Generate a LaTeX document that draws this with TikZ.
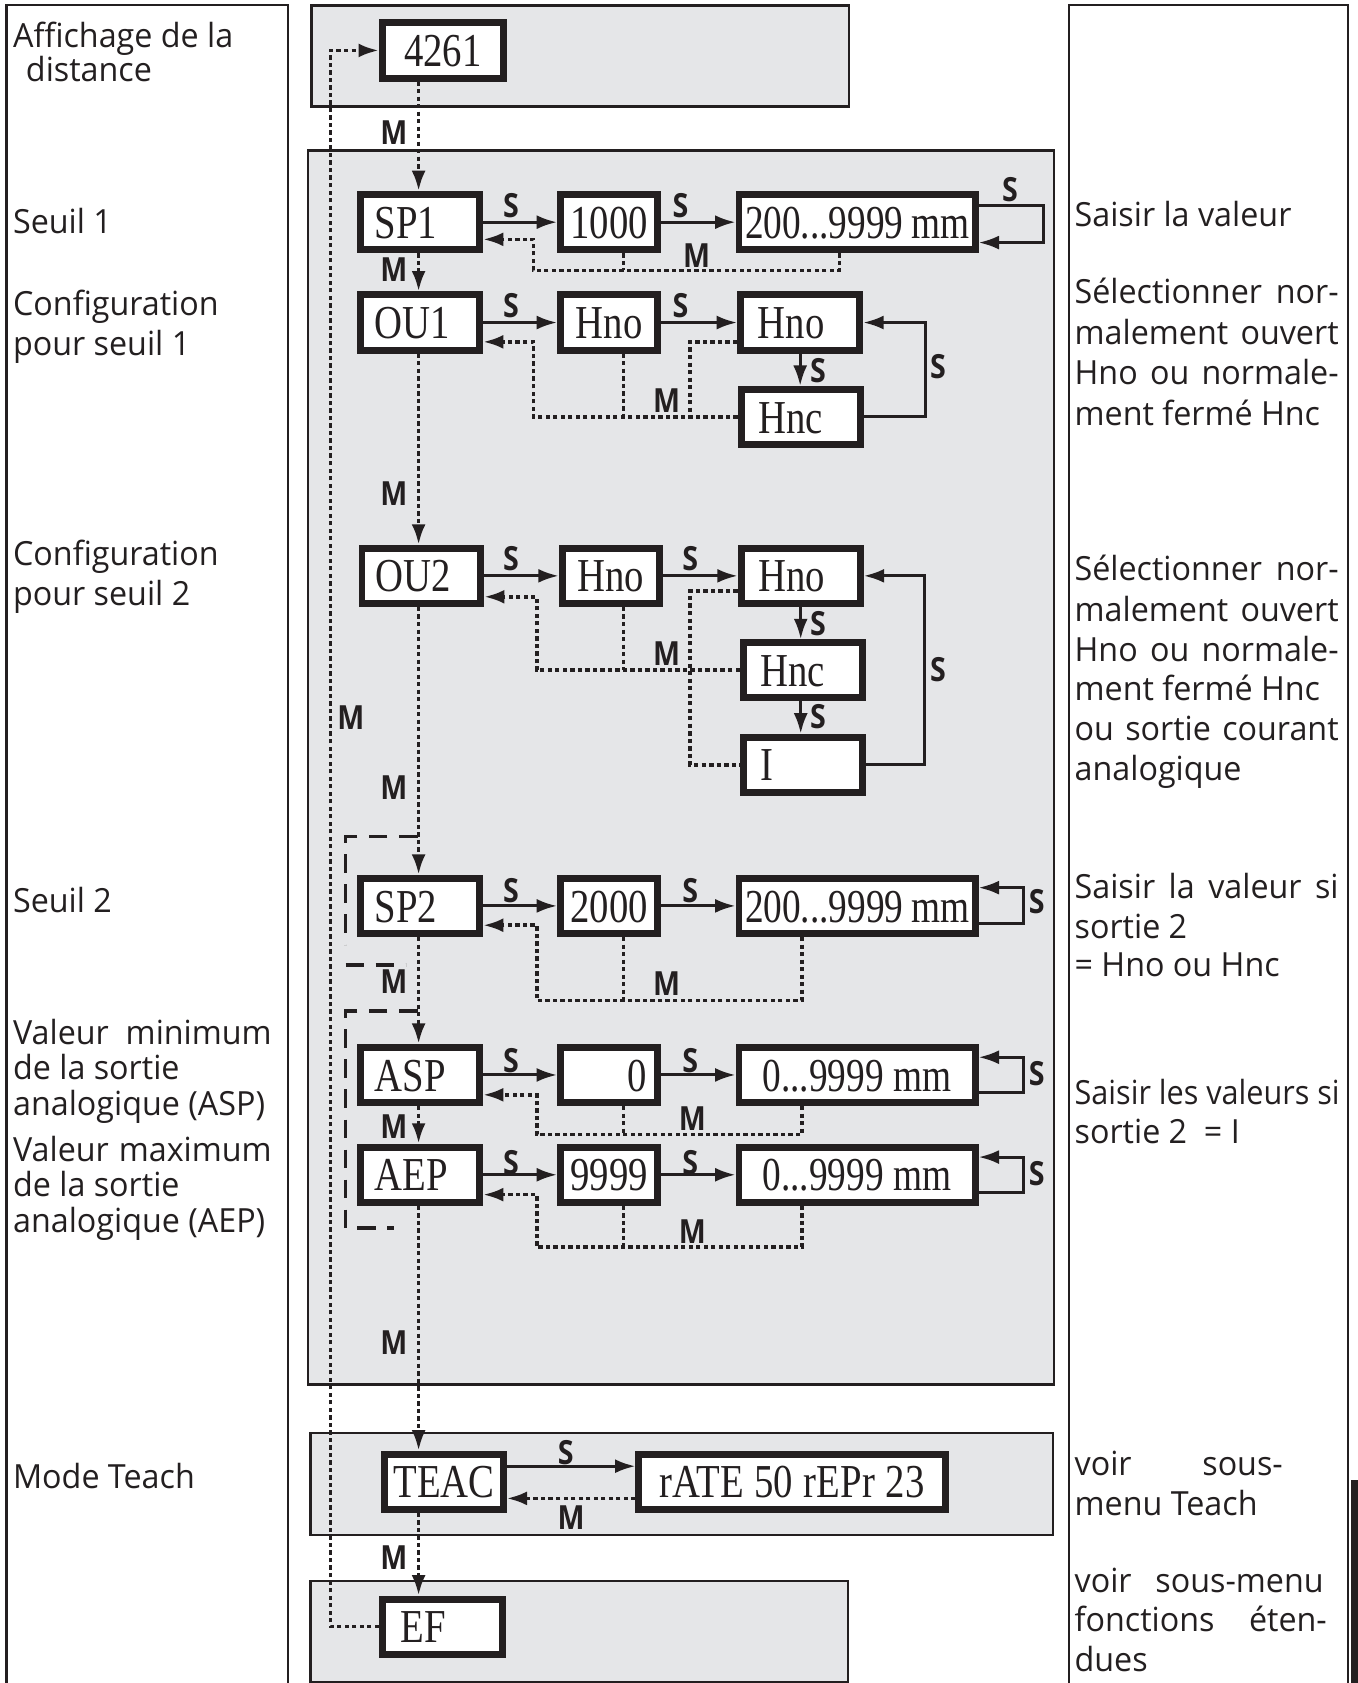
\documentclass[tikz,border=0pt]{standalone}
\usepackage{fontspec}
\setmainfont{Liberation Serif}
\newfontfamily\boxfont{Liberation Serif}[FakeStretch=0.82]
\newfontfamily\boxfontn{Liberation Serif}[FakeStretch=0.79]
\newfontfamily\txtfont{Open Sans}[FakeStretch=0.97]
\newfontfamily\txtfontn{Open Sans}[FakeStretch=0.92]
\newfontfamily\lblfont{Open Sans}[FakeStretch=0.86]
\usetikzlibrary{arrows.meta,calc}
\definecolor{ink}{RGB}{35,31,32}
\definecolor{panel}{RGB}{229,230,232}
\tikzset{
  panelbox/.style={draw=ink, fill=panel, line width=2.5pt},
  colbox/.style={draw=ink, line width=2pt},
  bx/.style={draw=ink, fill=white, line width=6.5pt, inner ysep=0pt, minimum height=51.5pt, text height=30pt, text depth=0pt, text=ink, font=\boxfont\fontsize{44}{44}\selectfont},
  c1/.style={bx, text width=84.5pt, inner xsep=13pt, align=left},
  c2/.style={bx, minimum width=90.5pt, inner xsep=2pt},
  c2r/.style={bx, text width=70.5pt, inner xsep=10pt, align=right},
  c3w/.style={bx, minimum width=220pt, inner xsep=2pt, font=\boxfontn\fontsize{44}{44}\selectfont},
  c3n/.style={bx, text width=79pt, inner xsep=16pt, align=left},
  txt/.style={font=\txtfont\fontsize{31}{37}\selectfont, inner sep=0pt, anchor=base west, text=ink},
  lbl/.style={font=\lblfont\bfseries\fontsize{31}{31}\selectfont, inner sep=0pt, text=ink},
  arw/.style={-{Latex[length=19pt,width=13pt]}},
  sarr/.style={draw=ink, line width=2.8pt},
  mdot/.style={draw=ink, line width=3.4pt, dash pattern=on 4pt off 3pt},
  brk/.style={draw=ink, line width=3pt, dash pattern=on 17pt off 11pt},
}
\begin{document}
\begin{tikzpicture}[x=1pt,y=-1pt]
\useasboundingbox (0,0) rectangle (1265,1568);
% columns
\draw[colbox] (6,1580) -- (6,5) -- (268,5) -- (268,1580);
\draw[colbox] (996,1580) -- (996,5) -- (1256,5) -- (1256,1580);
\fill[ink] (1259,1379) rectangle (1270,1575);
% panels
\draw[panelbox] (290,5) rectangle (791,99);
\draw[panelbox] (287,140) rectangle (982,1290);
\draw[panelbox] (289,1335) rectangle (981,1430);
\draw[panelbox] (289,1473) rectangle (790,1567);

% nodes
\node[bx, minimum width=112.5pt, inner xsep=2pt] (n4261) at (412.5,47) {4261};
\node[c1] (SP1) at (391.5,207) {SP1};
\node[c2] (n1000) at (567.5,207) {1000};
\node[c3w] (n200a) at (798.5,207) {200...9999\hspace{7pt}mm};
\node[c1] (OU1) at (391.5,300.5) {OU1};
\node[c2] (Hno1a) at (567.5,300.5) {Hno};
\node[c3n] (Hno1b) at (745.5,300.5) {Hno};
\node[c3n] (Hnc1) at (746,388.5) {Hnc};
\node[c1] (OU2) at (392.5,536.5) {OU2};
\node[c2] (Hno2a) at (569,536.5) {Hno};
\node[c3n] (Hno2b) at (746,536.5) {Hno};
\node[c3n] (Hnc2) at (748,624.5) {Hnc};
\node[c3n] (I2) at (748,712.5) {I};
\node[c1] (SP2) at (391.5,844) {SP2};
\node[c2] (n2000) at (567.5,844) {2000};
\node[c3w] (n200b) at (798.5,844) {200...9999\hspace{7pt}mm};
\node[c1] (ASP) at (391.5,1001.5) {ASP};
\node[c2r] (n0) at (567.5,1001.5) {0};
\node[c3w] (n0r) at (798.5,1001.5) {0...9999\hspace{9pt}mm};
\node[c1] (AEP) at (391.5,1094.5) {AEP};
\node[c2] (n9999) at (567.5,1094.5) {9999};
\node[c3w] (n0r2) at (798.5,1094.5) {0...9999\hspace{9pt}mm};
\node[bx, text width=94pt, inner xsep=8.25pt, align=left] (TEAC) at (413.5,1380.5) {TEAC};
\node[bx, minimum width=285.5pt, inner xsep=2pt] (rATE) at (738,1380.5) {rATE\hspace{10pt}50\hspace{10pt}rEPr\hspace{10pt}23};
\node[bx, text width=78pt, inner xsep=16.75pt, align=left] (EF) at (412,1515.5) {EF};

% main M chain
\coordinate (xM) at (390,0);
\draw[mdot,arw] (n4261.south -| xM) -- (SP1.north -| xM);
\draw[mdot,arw] (SP1.south -| xM) -- (OU1.north -| xM);
\draw[mdot,arw] (OU1.south -| xM) -- (OU2.north -| xM);
\draw[mdot,arw] (OU2.south -| xM) -- (SP2.north -| xM);
\draw[mdot,arw] (SP2.south -| xM) -- (ASP.north -| xM);
\draw[mdot,arw] (ASP.south -| xM) -- (AEP.north -| xM);
\draw[mdot,arw] (AEP.south -| xM) -- (TEAC.north -| xM);
\draw[mdot,arw] (TEAC.south -| xM) -- (EF.north -| xM);
\node[lbl] (mA) at (367,124) {M};
\node[lbl] (mB) at (367,251) {M};
\node[lbl] (mC) at (367,460) {M};
\node[lbl] (mD) at (367,734) {M};
\node[lbl] (mE) at (367,915) {M};
\node[lbl] (mF) at (367,1050) {M};
\node[lbl] (mG) at (367,1251) {M};
\node[lbl] (mH) at (367,1451) {M};

% left return
\draw[mdot,arw] (EF.west) -| (308,47) -- (n4261.west);
\node[lbl] (mL) at (327,669) {M};

% brackets
\draw[brk] (389,779) -- (322,779) -- (322,880);
\draw[brk] (322,899) -- (378,899);
\draw[brk] (389,942) -- (322,942) -- (322,1144) -- (367,1144);

% row SP1
\draw[sarr,arw] (SP1.east) -- (n1000.west);
\node[lbl] (s1a) at (476,192) {S};
\draw[sarr,arw] (n1000.east) -- (n200a.west);
\node[lbl] (s1b) at (634,192) {S};
\draw[sarr,arw] ($(n200a.east)+(0,-16)$) -- ++(60,0) -- ++(0,35) -- ($(n200a.east)+(0,19)$);
\node[lbl] (s1c) at (941,177) {S};
\draw[mdot,arw] ($(n200a.south)+(-16.5,0)$) |- (497,252) |- ($(SP1.east)+(0,16)$);
\draw[mdot] ($(n1000.south)+(13.5,0)$) -- (581,252);
\node[lbl] (m1) at (649,238) {M};

% row OU1
\draw[sarr,arw] (OU1.east) -- (Hno1a.west);
\node[lbl] (s2a) at (476,285) {S};
\draw[sarr,arw] (Hno1a.east) -- (Hno1b.west);
\node[lbl] (s2b) at (634,285) {S};
\draw[sarr,arw] (Hno1b.south) -- (Hnc1.north -| Hno1b.south);
\node[lbl] (s2c) at (762,345) {S};
\draw[sarr,arw] (Hnc1.east) -| ($(Hno1b.east)+(58,0)$) -- (Hno1b.east);
\node[lbl] (s2d) at (874,342) {S};
\draw[mdot,arw] (Hnc1.west) -| (497,318.5) -- ($(OU1.east)+(0,18)$);
\draw[mdot] ($(Hno1a.south)+(13.5,0)$) -- (581,388.5);
\draw[mdot] ($(Hno1b.west)+(0,18)$) -| (643,388.5);
\node[lbl] (m2) at (621,373) {M};

% row OU2
\draw[sarr,arw] (OU2.east) -- (Hno2a.west);
\node[lbl] (s3a) at (476,520) {S};
\draw[sarr,arw] (Hno2a.east) -- (Hno2b.west);
\node[lbl] (s3b) at (643,520) {S};
\draw[sarr,arw] (Hno2b.south) -- (Hnc2.north -| Hno2b.south);
\node[lbl] (s3c) at (762,581) {S};
\draw[sarr,arw] (Hnc2.south -| Hno2b.south) -- (I2.north -| Hno2b.south);
\node[lbl] (s3d) at (762,668) {S};
\draw[sarr,arw] (I2.east) -| ($(Hno2b.east)+(57,0)$) -- (Hno2b.east);
\node[lbl] (s3e) at (874,624) {S};
\draw[mdot,arw] (Hnc2.west) -| (500,556) -- ($(OU2.east)+(0,19.5)$);
\draw[mdot] ($(Hno2a.south)+(12,0)$) -- (581,624.5);
\draw[mdot] ($(Hno2b.west)+(0,14)$) -| (643,712.5) -- (I2.west);
\node[lbl] (m3) at (621,609) {M};

% row SP2
\draw[sarr,arw] (SP2.east) -- (n2000.west);
\node[lbl] (s4a) at (476,830) {S};
\draw[sarr,arw] (n2000.east) -- (n200b.west);
\node[lbl] (s4b) at (643,830) {S};
\draw[sarr,arw] ($(n200b.east)+(0,16)$) -- ++(42,0) -- ++(0,-33) -- ($(n200b.east)+(0,-17)$);
\node[lbl] (s4c) at (966,840) {S};
\draw[mdot,arw] ($(n200b.south)+(-51.5,0)$) |- (500,932) |- ($(SP2.east)+(0,18)$);
\draw[mdot] ($(n2000.south)+(13.5,0)$) -- (581,932);
\node[lbl] (m4) at (621,916) {M};

% row ASP
\draw[sarr,arw] (ASP.east) -- (n0.west);
\node[lbl] (s5a) at (476,988) {S};
\draw[sarr,arw] (n0.east) -- (n0r.west);
\node[lbl] (s5b) at (643,988) {S};
\draw[sarr,arw] ($(n0r.east)+(0,16.5)$) -- ++(42,0) -- ++(0,-33) -- ($(n0r.east)+(0,-16.5)$);
\node[lbl] (s5c) at (966,1000) {S};
\draw[mdot,arw] ($(n0r.south)+(-51.5,0)$) |- (500,1057) |- ($(ASP.east)+(0,18.5)$);
\draw[mdot] ($(n0.south)+(13.5,0)$) -- (581,1057);
\node[lbl] (m5) at (645,1042) {M};

% row AEP
\draw[sarr,arw] (AEP.east) -- (n9999.west);
\node[lbl] (s6a) at (476,1083) {S};
\draw[sarr,arw] (n9999.east) -- (n0r2.west);
\node[lbl] (s6b) at (643,1083) {S};
\draw[sarr,arw] ($(n0r2.east)+(0,16.5)$) -- ++(42,0) -- ++(0,-33) -- ($(n0r2.east)+(0,-16.5)$);
\node[lbl] (s6c) at (966,1093) {S};
\draw[mdot,arw] ($(n0r2.south)+(-51.5,0)$) |- (500,1162) |- ($(AEP.east)+(0,18.5)$);
\draw[mdot] ($(n9999.south)+(13.5,0)$) -- (581,1162);
\node[lbl] (m6) at (645,1147) {M};

% TEAC row
\draw[sarr,arw] ($(TEAC.east)+(0,-14.5)$) -- ($(rATE.west)+(0,-14.5)$);
\node[lbl] (s7) at (527,1353) {S};
\draw[mdot,arw] ($(rATE.west)+(0,15.5)$) -- ($(TEAC.east)+(0,15.5)$);
\node[lbl] (m7) at (532,1414) {M};

% left texts
\node[txt] (l1) at (12,44) {Affichage de la};
\node[txt] (l2) at (24,76) {distance};
\node[txt] (l3) at (12,218) {Seuil 1};
\node[txt] (l4) at (12,294) {Configuration};
\node[txt] (l5) at (12,331) {pour seuil 1};
\node[txt] (l6) at (12,527) {Configuration};
\node[txt] (l7) at (12,564) {pour seuil 2};
\node[txt] (l8) at (12,850) {Seuil 2};
\node[txt] (l9) at (12,973) {\makebox[241pt][s]{Valeur minimum}};
\node[txt] (l10) at (12,1006) {de la sortie};
\node[txt] (l11) at (12,1039) {analogique (ASP)};
\node[txt] (l12) at (12,1082) {\makebox[241pt][s]{Valeur maximum}};
\node[txt] (l13) at (12,1115) {de la sortie};
\node[txt] (l14) at (12,1148) {analogique (AEP)};
\node[txt] (l15) at (12,1387) {Mode Teach};

% right texts
\node[txt] (r1) at (1001,211) {Saisir la valeur};
\node[txt] (r2) at (1001,283) {\makebox[246pt][s]{Sélectionner nor-}};
\node[txt] (r3) at (1001,321) {\makebox[246pt][s]{malement ouvert}};
\node[txt] (r4) at (1001,358) {\makebox[246pt][s]{Hno ou normale-}};
\node[txt] (r5) at (1001,396) {ment fermé Hnc};
\node[txt] (r6) at (1001,541) {\makebox[246pt][s]{Sélectionner nor-}};
\node[txt] (r7) at (1001,579) {\makebox[246pt][s]{malement ouvert}};
\node[txt] (r8) at (1001,616) {\makebox[246pt][s]{Hno ou normale-}};
\node[txt] (r9) at (1001,653) {ment fermé Hnc};
\node[txt] (r10) at (1001,690) {\makebox[246pt][s]{ou sortie courant}};
\node[txt] (r11) at (1001,727) {analogique};
\node[txt] (r12) at (1001,837) {\makebox[246pt][s]{Saisir la valeur si}};
\node[txt] (r13) at (1001,874) {sortie 2};
\node[txt] (r14) at (1001,910) {= Hno ou Hnc};
\node[txt, font=\txtfontn\fontsize{31}{37}\selectfont] (r15) at (1001,1029) {\makebox[247pt][s]{Saisir les valeurs si}};
\node[txt] (r16) at (1001,1065) {sortie 2\ \ = I};
\node[txt] (r17) at (1001,1375) {\makebox[194pt][s]{voir sous-}};
\node[txt] (r18) at (1001,1412) {menu Teach};
\node[txt] (r19) at (1001,1484) {\makebox[232pt][s]{voir sous-menu}};
\node[txt] (r20) at (1001,1520) {\makebox[235pt][s]{fonctions éten-}};
\node[txt] (r21) at (1001,1557) {dues};
\end{tikzpicture}
\end{document}
